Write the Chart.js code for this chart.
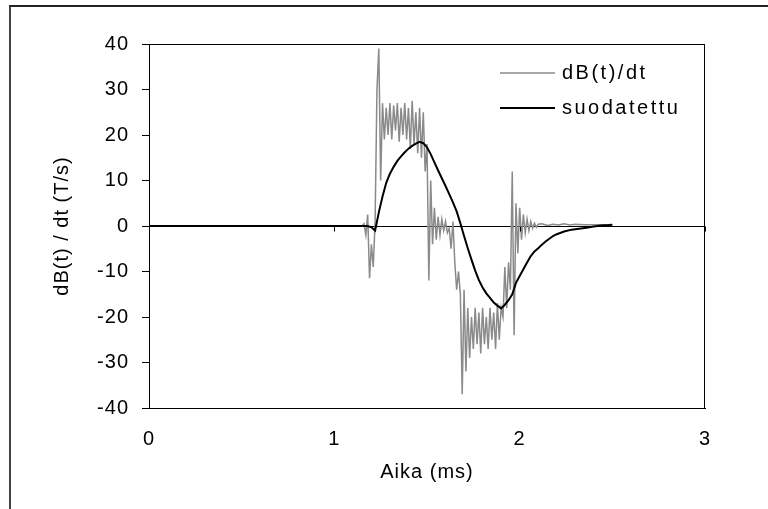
<!DOCTYPE html>
<html>
<head>
<meta charset="utf-8">
<script src="https://cdn.jsdelivr.net/npm/chart.js@4/dist/chart.umd.min.js"></script>
<style>
  html, body { margin: 0; padding: 0; background: #fff; overflow: hidden; }
  #wrap { position: relative; width: 768px; height: 509px; overflow: hidden; }
  #frame { position: absolute; left: 9px; top: 5px; width: 900px; height: 700px;
           border-top: 2px solid #222; border-left: 2px solid #444; }
  canvas { position: absolute; left: 0; top: 0; }
</style>
</head>
<body>
<div id="wrap">
  <div id="frame"></div>
  <canvas id="chart" width="768" height="509"></canvas>
</div>
<script>
// ── Data ──────────────────────────────────────────────────────────────────────

// raw signal dB(t)/dt, time in ms, value in T/s
const rawTime = [
  0, 1.15, 1.16, 1.17, 1.18, 1.19, 1.20, 1.21, 1.22, 1.23, 1.24, 1.25, 1.26, 1.27, 1.28, 1.29,
  1.30, 1.31, 1.32, 1.33, 1.34, 1.35, 1.36, 1.37, 1.38, 1.39, 1.40, 1.41, 1.42, 1.43, 1.44,
  1.45, 1.46, 1.47, 1.48, 1.49, 1.50, 1.51, 1.52, 1.53, 1.54, 1.55, 1.56, 1.57, 1.58, 1.59,
  1.60, 1.61, 1.62, 1.63, 1.64, 1.65, 1.66, 1.67, 1.68, 1.69, 1.70, 1.71, 1.72, 1.73, 1.74,
  1.75, 1.76, 1.77, 1.78, 1.79, 1.80, 1.81, 1.82, 1.83, 1.84, 1.85, 1.86, 1.87, 1.88, 1.89,
  1.90, 1.91, 1.92, 1.93, 1.94, 1.95, 1.96, 1.97, 1.98, 1.99, 2.00, 2.01, 2.02, 2.03, 2.04,
  2.05, 2.06, 2.07, 2.08, 2.09, 2.10, 2.12, 2.15, 2.18, 2.21, 2.24, 2.27, 2.30, 2.35, 2.40,
  2.45, 2.50
];
const rawValue = [
  0, 0, 0.5, -2, 2.5, -11.5, -4, -9, 1, 30, 39, 10, 27, 19, 26, 20,
  27, 19, 26.5, 21, 27, 18.5, 26, 20, 27, 19, 26, 17, 27.5, 18, 25,
  16, 26, 15, 25, 12, 18, -12, 10, -4, 4, -3, 2, -2, 1.5, -1,
  1, -1.5, -0.5, -5, 1, -8, -14, -10, -15, -37, -14, -32, -18, -29, -20,
  -27, -18, -26, -19, -28, -18, -26, -20, -27, -18, -25, -19, -27, -17, -25,
  -18, -20, -9, -18, -8, -14, 12, -24, 5, -6, 4, -3, 2.5, -1.5, 1.5,
  -1, 1, -0.5, 0.6, -0.3, 0.4, 0.5, 0.1, 0.4, 0.2, 0.5, 0.2, 0.4, 0.3, 0.3,
  0.3, 0.3
];

// filtered signal "suodatettu"
const filtTime = [
  0, 1.18, 1.20, 1.22, 1.24, 1.26, 1.28, 1.30, 1.32, 1.34, 1.36, 1.38, 1.40, 1.42, 1.44,
  1.46, 1.48, 1.50, 1.52, 1.54, 1.56, 1.58, 1.60, 1.62, 1.64, 1.66, 1.68, 1.70, 1.72, 1.74,
  1.76, 1.78, 1.80, 1.82, 1.84, 1.86, 1.88, 1.90, 1.92, 1.94, 1.96, 1.98, 2.00, 2.02, 2.04,
  2.06, 2.08, 2.10, 2.12, 2.14, 2.16, 2.18, 2.20, 2.24, 2.28, 2.32, 2.36, 2.40, 2.44, 2.48,
  2.50
];
const filtValue = [
  0, 0, -0.3, -1, 3, 6.5, 9.5, 11.5, 13, 14.3, 15.3, 16.2, 17, 17.6, 18.1,
  18.5, 18.2, 17.3, 15.8, 14.0, 12.2, 10.5, 8.8, 7.0, 5.2, 3.2, 0.6, -2.2, -4.9, -7.4,
  -9.8, -11.9, -13.5, -14.8, -15.8, -16.8, -17.5, -18.1, -17.3, -16.3, -15, -12.5, -11, -9.5, -8,
  -6.6, -5.6, -4.9, -4.1, -3.4, -2.8, -2.2, -1.8, -1.2, -0.8, -0.6, -0.4, -0.1, 0.1, 0.2,
  0.3
];

const seriesLabels = ['dB(t)/dt', 'suodatettu'];
const xTitle = 'Aika (ms)';
const yTitle = 'dB(t) / dt (T/s)';

const FONT = '"Liberation Sans", Arial, Helvetica, sans-serif';

// ── Decorations: plot box, ticks on the zero line, legend ─────────────────────

const textSpacing = {
  id: 'textSpacing',
  beforeDraw(chart) { if ('letterSpacing' in chart.ctx) chart.ctx.letterSpacing = '1px'; },
  afterDraw(chart) { if ('letterSpacing' in chart.ctx) chart.ctx.letterSpacing = '0px'; },
};

const plotFrame = {
  id: 'plotFrame',
  afterDraw(chart) {
    const { ctx, chartArea: a, scales } = chart;
    ctx.save();
    ctx.strokeStyle = '#000';
    ctx.lineWidth = 1;
    ctx.strokeRect(a.left + 0.5, a.top + 0.5, a.right - a.left - 1, a.bottom - a.top);
    // x axis sits on y = 0, ticks pointing down
    const y0 = Math.round(scales.y.getPixelForValue(0)) + 0.5;
    scales.x.ticks.forEach(t => {
      const x = Math.round(scales.x.getPixelForValue(t.value)) + 0.5;
      ctx.beginPath();
      ctx.moveTo(x, y0);
      ctx.lineTo(x, y0 + 5);
      ctx.stroke();
    });
    ctx.restore();
  }
};

const boxLegend = {
  id: 'boxLegend',
  afterDraw(chart) {
    const { ctx, chartArea: a } = chart;
    ctx.save();
    ctx.font = '20px ' + FONT;
    ctx.textBaseline = 'middle';
    ctx.fillStyle = '#000';
    if ('letterSpacing' in ctx) ctx.letterSpacing = '2.5px';
    chart.data.datasets.forEach((ds, i) => {
      const y = a.top + 29 + i * 35;
      ctx.strokeStyle = ds.borderColor;
      ctx.lineWidth = ds.borderWidth;
      ctx.beginPath();
      ctx.moveTo(a.right - 205, y);
      ctx.lineTo(a.right - 150, y);
      ctx.stroke();
      ctx.fillText(ds.label, a.right - 143, y);
    });
    ctx.restore();
  }
};

// ── Chart ─────────────────────────────────────────────────────────────────────

Chart.defaults.font.family = FONT;
Chart.defaults.color = '#000';

new Chart(document.getElementById('chart').getContext('2d'), {
  type: 'line',
  data: {
    datasets: [
      {
        label: seriesLabels[0],
        data: rawTime.map((t, i) => ({ x: t, y: rawValue[i] })),
        borderColor: '#8a8a8a',
        borderWidth: 1.5,
        pointRadius: 0,
        fill: false,
        tension: 0,
        order: 1,
      },
      {
        label: seriesLabels[1],
        data: filtTime.map((t, i) => ({ x: t, y: filtValue[i] })),
        borderColor: '#000',
        borderWidth: 2,
        pointRadius: 0,
        fill: false,
        tension: 0,
        order: 0,
      },
    ],
  },
  options: {
    responsive: false,
    animation: false,
    layout: { padding: { left: 0, right: 63, top: 44, bottom: 0 } },
    plugins: {
      legend: { display: false },
      tooltip: { enabled: false },
    },
    scales: {
      x: {
        type: 'linear',
        min: 0,
        max: 3,
        afterFit: s => { s.height = 101; },
        grid: { display: false, drawTicks: false },
        border: { display: true, color: '#000', width: 1 },
        ticks: { stepSize: 1, padding: 19, font: { size: 20 }, color: '#000' },
        title: { display: true, text: xTitle, font: { size: 20 }, color: '#000', padding: { top: 0, bottom: 25 } },
      },
      y: {
        min: -40,
        max: 40,
        afterFit: s => { s.width = 149; },
        grid: {
          drawOnChartArea: true,
          color: c => (c.tick && c.tick.value === 0 ? '#000' : 'rgba(0,0,0,0)'),
          tickColor: '#000',
          tickLength: 7,
          lineWidth: 1,
        },
        border: { display: true, color: '#000', width: 1 },
        ticks: { stepSize: 10, padding: 13, font: { size: 20 }, color: '#000' },
        title: { display: true, text: yTitle, font: { size: 20 }, color: '#000', padding: { top: 50, bottom: 0 } },
      },
    },
  },
  plugins: [textSpacing, plotFrame, boxLegend],
});
</script>
</body>
</html>
